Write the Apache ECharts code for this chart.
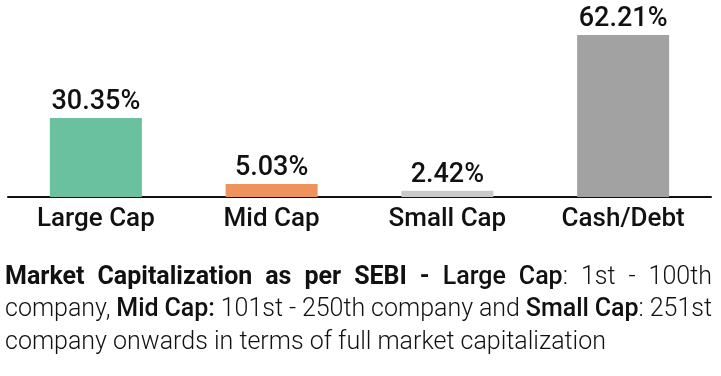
<!DOCTYPE html>
<html>
<head>
<meta charset="utf-8">
<script src="https://cdn.jsdelivr.net/npm/echarts@6/dist/echarts.min.js"></script>
<style>
html,body{margin:0;padding:0;background:#fff;}
#c{width:721px;height:376px;}
</style>
</head>
<body>
<div id="c"></div>
<script>
const categories = ['Large Cap', 'Mid Cap', 'Small Cap', 'Cash/Debt'];
const values = [30.35, 5.03, 2.42, 62.21];
const barColors = ['#6ac19f', '#ef935c', '#c9c9c9', '#a2a2a2'];
const noteLines = [
  [['Market Capitalization as per SEBI -', 'bold'], [' Large Cap', '500'], [': 1st - 100th', '300']],
  [['company, ', '300'], ['Mid Cap:', '500'], [' 101st - 250th company and ', '300'], ['Small Cap', '500'], [': 251st', '300']],
  [['company onwards in terms of full market capitalization', '300']]
];

const FONT = 'Roboto';
const chart = echarts.init(document.getElementById('c'), null, {renderer: 'canvas'});

const mctx = document.createElement('canvas').getContext('2d');
function measure(t, w, s) { mctx.font = w + ' ' + s + 'px ' + FONT; return mctx.measureText(t).width; }
function toWords(line) {
  const words = []; let cur = [];
  for (const [t, w] of line) {
    t.split(' ').forEach((p, i) => {
      if (i > 0) { if (cur.length) words.push(cur); cur = []; }
      if (p) cur.push([p, w]);
    });
  }
  if (cur.length) words.push(cur);
  return words;
}
const noteLeft = 5, noteRight = 712, noteSize = 25;
const baselines = [286, 318, 351];
const graphics = [];
noteLines.forEach((line, li) => {
  const words = toWords(line);
  const justify = li < noteLines.length - 1;
  let size = noteSize;
  const wordW = (s) => words.map(wd => wd.reduce((a, [t, w]) => a + measure(t, w, s), 0));
  let ws = wordW(size);
  let sum = ws.reduce((a, b) => a + b, 0);
  const avail = noteRight - noteLeft;
  let gap = measure(' ', '300', size);
  if (justify) {
    const minGap = size * 0.22;
    while (sum + minGap * (words.length - 1) > avail && size > 12) { size -= 0.5; ws = wordW(size); sum = ws.reduce((a, b) => a + b, 0); }
    gap = (avail - sum) / (words.length - 1);
  }
  let x = noteLeft;
  words.forEach((wd, wi) => {
    let rx = x;
    wd.forEach(([t, w]) => {
      graphics.push({
        type: 'text', x: rx, y: baselines[li] - size * 0.33,
        style: {text: t, fill: '#111', fontFamily: FONT, fontSize: size, fontWeight: w, textAlign: 'left', textVerticalAlign: 'middle'}
      });
      rx += measure(t, w, size);
    });
    x += ws[wi] + gap;
  });
});

chart.setOption({
  animation: false,
  grid: {left: 8, right: 10, top: 20, bottom: 179, containLabel: false},
  xAxis: {
    type: 'category', data: categories,
    axisLine: {lineStyle: {color: '#111', width: 2}},
    axisTick: {show: false},
    axisLabel: {fontFamily: FONT, fontSize: 26, fontWeight: 500, color: '#111', margin: 9}
  },
  yAxis: {type: 'value', min: 0, max: 68, show: false, splitLine: {show: false}},
  series: [{
    type: 'bar', barWidth: 92,
    data: values.map((v, i) => ({value: v, itemStyle: {color: barColors[i]}})),
    label: {show: true, position: 'top', distance: 2, fontFamily: FONT, fontSize: 27, fontWeight: 500, color: '#111',
      formatter: p => p.value.toFixed(2) + '%'}
  }],
  graphic: graphics
});
</script>
</body>
</html>
